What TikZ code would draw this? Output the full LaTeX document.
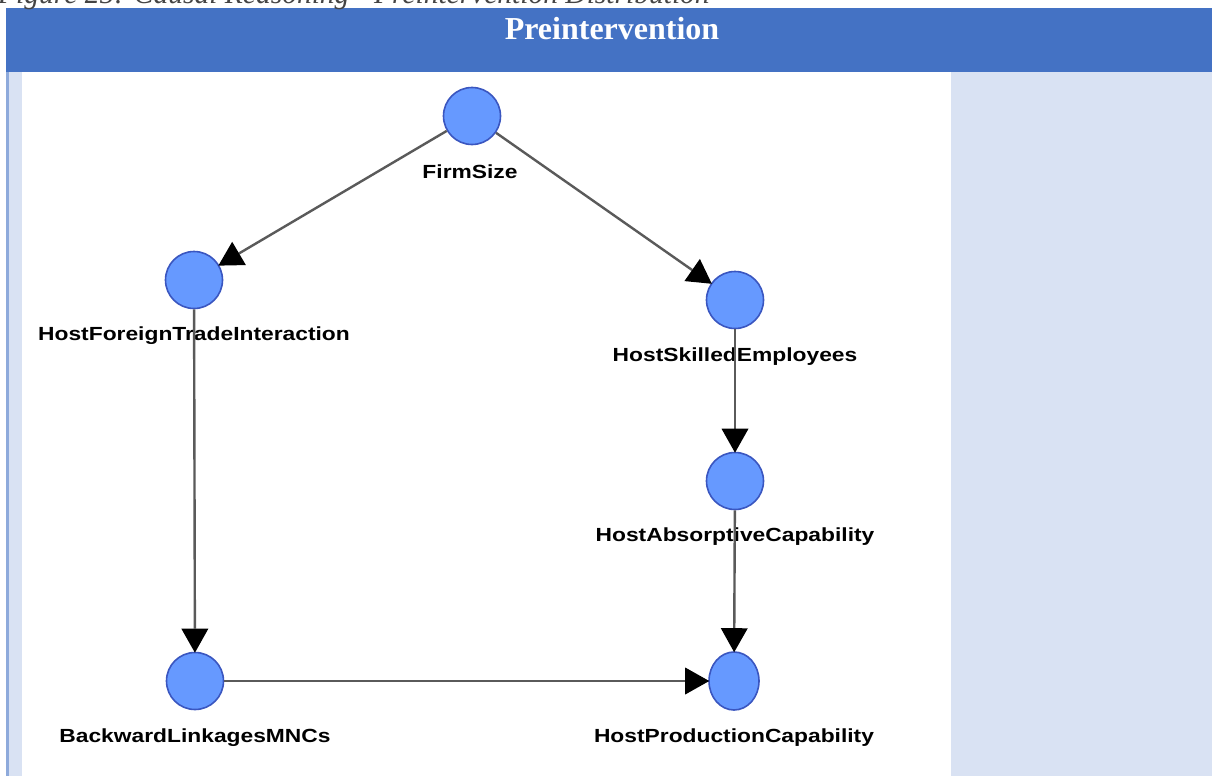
\documentclass[tikz,border=0pt]{standalone}
\usepackage{fontspec}
\usepackage{graphicx}
\setmainfont{Liberation Serif}
\newfontfamily\lblfont{Liberation Sans}
\usetikzlibrary{arrows.meta,shapes.geometric}
\definecolor{headblue}{HTML}{4472C4}
\definecolor{paleblue}{HTML}{D9E2F3}
\definecolor{stripedge}{HTML}{8EAADB}
\definecolor{nodefill}{HTML}{6699FF}
\definecolor{nodeedge}{HTML}{3A56C0}
\definecolor{edgegray}{HTML}{5A5A5A}
\definecolor{captext}{HTML}{444444}
\newcommand{\widelabel}[1]{\scalebox{1.2}[1]{#1}}
\tikzset{
  var/.style={circle, minimum size=57pt, inner sep=0pt, fill=nodefill, draw=nodeedge, line width=1.6pt},
  lbl/.style={font=\lblfont\bfseries\fontsize{19}{19}\selectfont, inner sep=0pt, anchor=center},
  link/.style={draw=edgegray, line width=2.4pt, -{Triangle[length=24pt,width=27pt,fill=black,line width=0pt]}, shorten >=-1pt}
}
\begin{document}
\begin{tikzpicture}[x=1pt,y=-1pt]
\useasboundingbox (0,0) rectangle (1212,776);
% page background and panels
\fill[white] (0,0) rectangle (1212,776);
\fill[headblue] (6,8) rectangle (1212,72);
\fill[paleblue] (6,72) rectangle (22,776);
\fill[stripedge] (6,72) rectangle (9,776);
\fill[paleblue] (951,72) rectangle (1212,776);
% caption line above the table
\node[anchor=base west, inner sep=0pt, text=captext, font=\itshape\fontsize{29.5}{29.5}\selectfont] (cap) at (-2,4) {Figure 25: Causal Reasoning - Preintervention Distribution};
% header text
\node[anchor=base, inner sep=0pt, text=white, font=\bfseries\fontsize{32}{32}\selectfont] (head) at (612,40) {Preintervention};
% variables
\node[var] (fs)  at (472,116) {};
\node[var] (hft) at (194,280) {};
\node[var] (hse) at (735,300) {};
\node[var] (hac) at (735,481) {};
\node[var] (blm) at (195,681) {};
\node[ellipse, minimum width=50pt, minimum height=58pt, inner sep=0pt, fill=nodefill, draw=nodeedge, line width=1.6pt] (hpc) at (734,681) {};
% labels
\node[lbl] (fsl)  at (470,172) {\widelabel{FirmSize}};
\node[lbl] (hftl) at (194,336) {\widelabel{HostForeignTradeInteraction}};
\node[lbl] (hsel) at (735,357) {\widelabel{HostSkilledEmployees}};
\node[lbl] (hacl) at (735,537) {\widelabel{HostAbsorptiveCapability}};
\node[lbl] (blml) at (195,738) {\widelabel{BackwardLinkagesMNCs}};
\node[lbl] (hpcl) at (734,738) {\widelabel{HostProductionCapability}};
% causal links
\draw[link] (fs) -- (hft);
\draw[link] (fs) -- (hse);
\draw[link] (hft) -- (blm);
\draw[link] (hse) -- (hac);
\draw[link] (hac) -- (hpc);
\draw[link] (blm) -- (hpc);
\end{tikzpicture}
\end{document}
